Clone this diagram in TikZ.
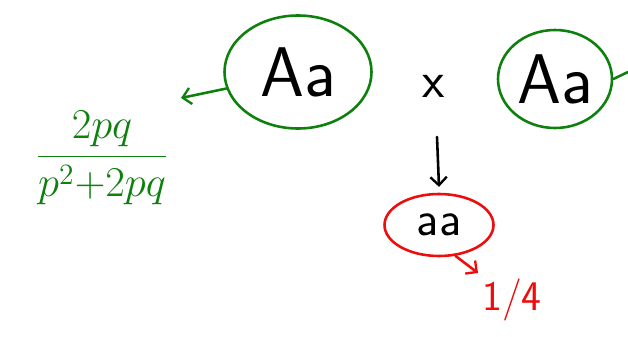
\documentclass[tikz,border=0pt]{standalone}
\usetikzlibrary{arrows.meta,positioning,shapes.geometric}
\definecolor{ParentClr}{rgb}{0.05,0.5,0.05}
\definecolor{ChildClr}{rgb}{0.93,0.05,0.05}

\begin{document}
\begin{tikzpicture}[x=0.03cm,y=-0.03cm,
  parent/.style={ellipse,draw=ParentClr,line width=2.2pt,inner sep=0pt,font=\sffamily\fontsize{60}{64}\selectfont},
  child/.style={ellipse,draw=ChildClr,line width=2.2pt,inner sep=0pt,font=\sffamily\fontsize{42}{46}\selectfont},
  gline/.style={draw=ParentClr,line width=2.2pt,line cap=round},
  rline/.style={draw=ChildClr,line width=2.2pt,line cap=round},
  barb/.style={-{Straight Barb[length=7pt,width=14pt,line width=2pt]}}]
\useasboundingbox (0,0) rectangle (628,336);

% Parents.
\node[parent,minimum width=4.41cm,minimum height=3.39cm] (mother) at (298,72) {Aa};
\node[parent,minimum width=3.42cm,minimum height=2.94cm] (father) at (555,79) {Aa};
\node[font=\sffamily\fontsize{44}{48}\selectfont] (cross) at (434,86) {x};

% Offspring.
\node[child,minimum width=3.27cm,minimum height=1.86cm] (offspring) at (439,225) {aa};
\node[text=ChildClr,font=\sffamily\fontsize{36}{40}\selectfont] (quarter) at (512,300) {1/4};

% Ratio.
\node[text=ParentClr,font=\LARGE,scale=2.1] (ratio) at (102,158) {$\displaystyle\frac{2pq}{p^2{+}2pq}$};

% Free ends.
\coordinate (leftend) at (181,98);
\coordinate (rightend) at (628,72);
\coordinate (crossdown) at (437,137);
\coordinate (quarterend) at (478,273);

% Connectors.
\draw[gline,barb] (mother.193) -- (leftend);
\draw[gline] (father.east) -- (rightend);
\draw[line width=2.2pt,line cap=round,barb] (crossdown) -- ([yshift=5pt]offspring.north);
\draw[rline,barb] (offspring.-62) -- (quarterend);

\end{tikzpicture}
\end{document}
